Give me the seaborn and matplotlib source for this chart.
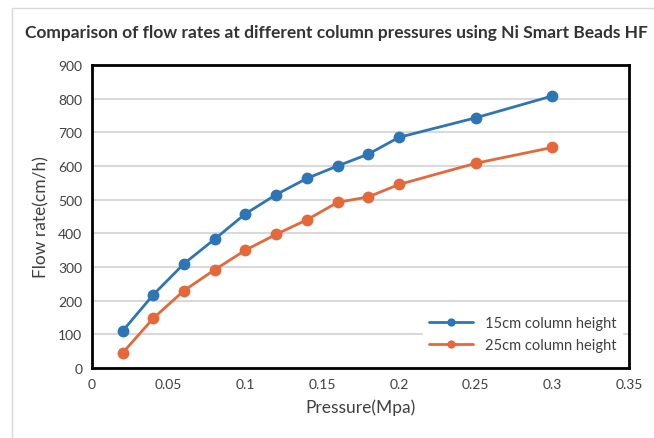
import pandas as pd
import matplotlib
matplotlib.use("Agg")
import matplotlib.pyplot as plt
import seaborn as sns
from matplotlib.patches import Rectangle

# Data
pressure = [0.02, 0.04, 0.06, 0.08, 0.10, 0.12, 0.14, 0.16, 0.18, 0.20, 0.25, 0.30]
flow_15cm = [110, 218, 310, 383, 458, 515, 563, 600, 635, 685, 743, 808]
flow_25cm = [45, 148, 230, 292, 350, 397, 440, 492, 508, 545, 608, 655]
series_names = ["15cm column height", "25cm column height"]
colors = ["#2e75b6", "#e5683a"]

df = pd.DataFrame({
    "Pressure": pressure * 2,
    "Flow": flow_15cm + flow_25cm,
    "Series": [series_names[0]] * len(pressure) + [series_names[1]] * len(pressure),
})

sns.set_style("white")
plt.rcParams["font.family"] = ["Lato", "DejaVu Sans"]

fig = plt.figure(figsize=(6.54, 4.39), dpi=100)
ax = fig.add_axes([0.1407, 0.1595, 0.8211, 0.6902])

# light outer frame
fig.patches.append(Rectangle((0.018, -0.02), 1.0, 1.0, transform=fig.transFigure,
                             fill=False, edgecolor="#d9d9d9", linewidth=1))

sns.lineplot(data=df, x="Pressure", y="Flow", hue="Series", palette=colors,
             marker="o", markersize=8.5, markeredgewidth=0, linewidth=2,
             ax=ax, zorder=3)

ax.set_xlim(0, 0.35)
ax.set_ylim(0, 900)
ax.set_xticks([0, 0.05, 0.1, 0.15, 0.2, 0.25, 0.3, 0.35])
ax.set_xticklabels(["0", "0.05", "0.1", "0.15", "0.2", "0.25", "0.3", "0.35"])
ax.set_yticks(range(0, 901, 100))
ax.tick_params(axis="both", labelsize=10, colors="#404040", length=0, pad=7)
ax.yaxis.grid(True, color="#d9d9d9", linewidth=1.5)
ax.set_axisbelow(True)
for s in ax.spines.values():
    s.set_color("black")
    s.set_linewidth(2)

ax.set_xlabel("Pressure(Mpa)", fontsize=12.5, color="#404040", labelpad=6)
ax.set_ylabel("Flow rate(cm/h)", fontsize=12.5, color="#404040", labelpad=6)

fig.text(0.038, 0.925, "Comparison of flow rates at different column pressures using Ni Smart Beads HF",
         fontsize=12.5, fontweight="bold", color="#333333", ha="left", va="center")

leg = ax.legend(loc="lower right", frameon=True, fontsize=10.5, handlelength=3,
                markerscale=0.7, bbox_to_anchor=(0.995, 0.02), borderaxespad=0.3)
leg.get_frame().set_edgecolor("white")
leg.get_frame().set_alpha(1)
leg.get_frame().set_boxstyle("square", pad=0)
for t in leg.get_texts():
    t.set_color("#404040")

fig.savefig("out.png", dpi=100, facecolor="white")
